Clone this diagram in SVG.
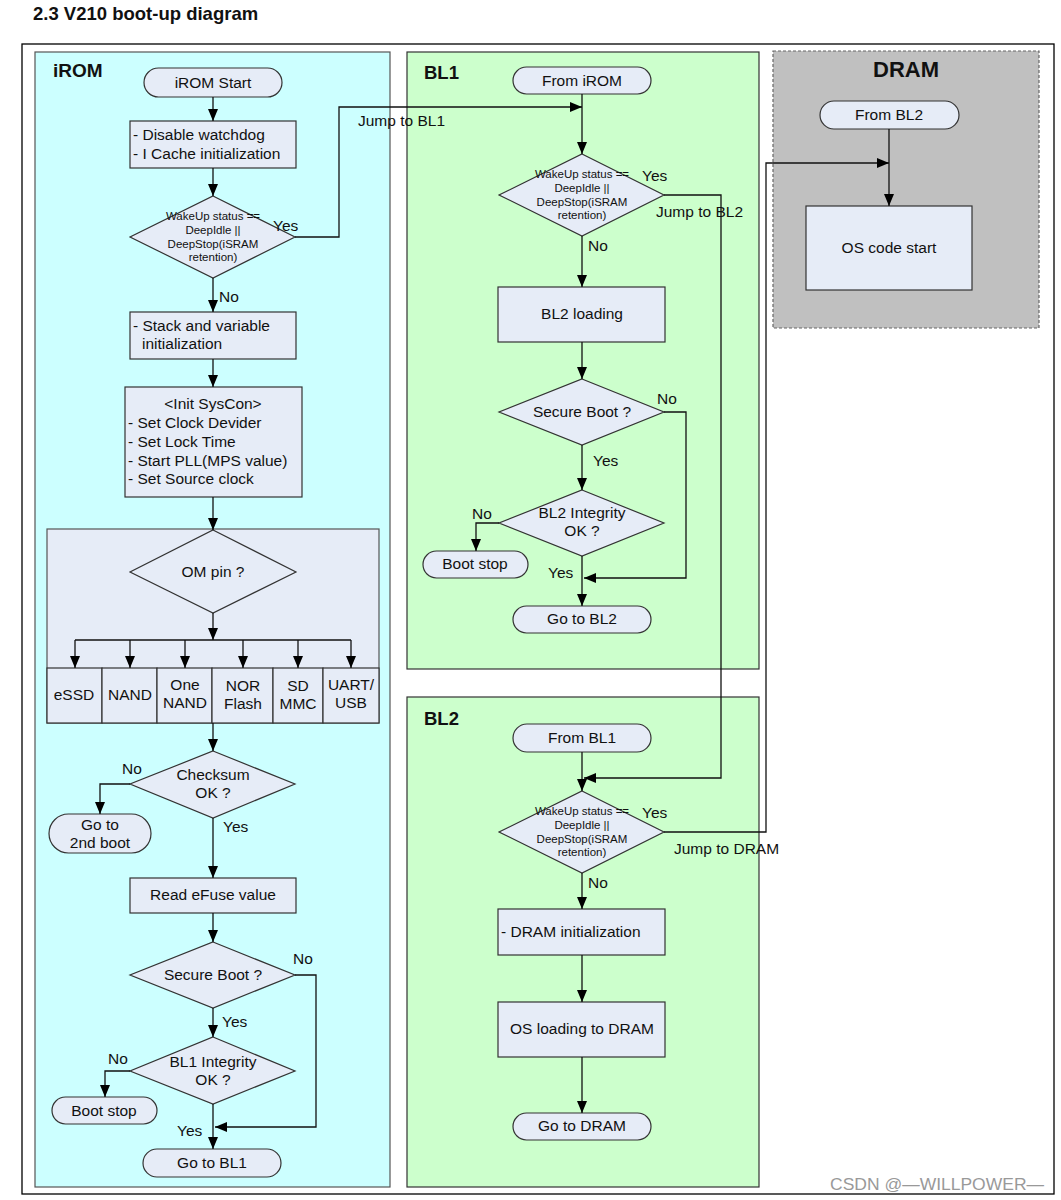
<svg xmlns="http://www.w3.org/2000/svg" width="1061" height="1200" viewBox="0 0 1061 1200">
<style>
text{font-family:"Liberation Sans",Arial,sans-serif;fill:#111}
.t{font-size:15.5px}
.c{text-anchor:middle}
.s{font-size:11.5px}
.b{font-weight:bold}
.n{fill:#e6ecf7;stroke:#333;stroke-width:1.2}
.ln{fill:none;stroke:#111;stroke-width:1.3}
.a{marker-end:url(#ah)}
</style>
<defs>
<marker id="ah" markerUnits="userSpaceOnUse" markerWidth="13" markerHeight="10" refX="12" refY="5" orient="auto">
<path d="M0,0 L12,5 L0,10 Z" fill="#000"/>
</marker>
</defs>
<rect width="1061" height="1200" fill="#fff"/>
<text x="33" y="20" class="b" style="font-size:18.5px">2.3 V210 boot-up diagram</text>
<rect x="22" y="44" width="1032" height="1150" fill="none" stroke="#000" stroke-width="1.3"/>

<g id="panel-irom">
<rect x="35" y="52" width="355" height="1135" fill="#ccffff" stroke="#555" stroke-width="1.2"/>
<text x="53" y="77" class="b" style="font-size:19px">iROM</text>
</g>
<g id="panel-bl1">
<rect x="407" y="52" width="352" height="617" fill="#ccffcc" stroke="#333" stroke-width="1.2"/>
<text x="424" y="79" class="b" style="font-size:18.5px">BL1</text>
</g>
<g id="panel-bl2">
<rect x="407" y="697" width="352" height="490" fill="#ccffcc" stroke="#333" stroke-width="1.2"/>
<text x="424" y="725" class="b" style="font-size:18.5px">BL2</text>
</g>
<g id="panel-dram">
<rect x="773" y="51" width="266" height="277" fill="#c0c0c0" stroke="#666" stroke-width="1.2" stroke-dasharray="3,2"/>
<text x="906" y="77" class="b c" style="font-size:22px">DRAM</text>
</g>

<!-- iROM nodes -->
<g id="irom-start"><rect class="n" x="144" y="68" width="138" height="29" rx="14.5"/><text x="213" y="88" class="t c">iROM Start</text></g>
<g id="irom-watchdog"><rect class="n" x="130" y="121" width="166" height="47"/><text x="133" y="140" class="t">- Disable watchdog</text><text x="133" y="159" class="t">- I Cache initialization</text></g>
<g id="irom-wakeup"><polygon class="n" points="213,196 295,237 213,278 130,237"/><text x="213" y="220" class="s c">WakeUp status ==</text><text x="213" y="234" class="s c">DeepIdle ||</text><text x="213" y="248" class="s c">DeepStop(iSRAM</text><text x="213" y="261" class="s c">retention)</text></g>
<g id="irom-stack"><rect class="n" x="130" y="312" width="166" height="47"/><text x="133" y="331" class="t">- Stack and variable</text><text x="142" y="349" class="t">initialization</text></g>
<g id="irom-syscon"><rect class="n" x="125" y="387" width="177" height="110"/><text x="213" y="409" class="t c">&lt;Init SysCon&gt;</text><text x="128" y="428" class="t">- Set Clock Devider</text><text x="128" y="447" class="t">- Set Lock Time</text><text x="128" y="466" class="t">- Start PLL(MPS value)</text><text x="128" y="484" class="t">- Set Source clock</text></g>
<g id="irom-om">
<rect x="47" y="529" width="332" height="194" fill="#e6ecf7" stroke="#555" stroke-width="1.2"/>
<polygon class="n" points="213,530 296,572 213,613 130,572"/>
<text x="213" y="577" class="t c">OM pin ?</text>
<rect class="n" x="47" y="668" width="55" height="55"/>
<rect class="n" x="102" y="668" width="55" height="55"/>
<rect class="n" x="157" y="668" width="55" height="55"/>
<rect class="n" x="212" y="668" width="61" height="55"/>
<rect class="n" x="273" y="668" width="50" height="55"/>
<rect class="n" x="323" y="668" width="56" height="55"/>
<text x="74" y="700" class="t c">eSSD</text>
<text x="130" y="700" class="t c">NAND</text>
<text x="185" y="690" class="t c">One</text><text x="185" y="708" class="t c">NAND</text>
<text x="243" y="691" class="t c">NOR</text><text x="243" y="709" class="t c">Flash</text>
<text x="298" y="691" class="t c">SD</text><text x="298" y="709" class="t c">MMC</text>
<text x="351" y="690" class="t c">UART/</text><text x="351" y="708" class="t c">USB</text>
</g>
<g id="irom-checksum"><polygon class="n" points="213,751 295,784 213,818 130,784"/><text x="213" y="780" class="t c">Checksum</text><text x="213" y="798" class="t c">OK ?</text></g>
<g id="irom-2ndboot"><rect class="n" x="49" y="814" width="102" height="39" rx="19.5"/><text x="100" y="830" class="t c">Go to</text><text x="100" y="848" class="t c">2nd boot</text></g>
<g id="irom-efuse"><rect class="n" x="130" y="878" width="166" height="35"/><text x="213" y="900" class="t c">Read eFuse value</text></g>
<g id="irom-secure"><polygon class="n" points="213,942 295,975 213,1008 130,975"/><text x="213" y="980" class="t c">Secure Boot ?</text></g>
<g id="irom-integrity"><polygon class="n" points="213,1037 295,1071 213,1104 130,1071"/><text x="213" y="1067" class="t c">BL1 Integrity</text><text x="213" y="1085" class="t c">OK ?</text></g>
<g id="irom-bootstop"><rect class="n" x="52" y="1097" width="105" height="27" rx="13.5"/><text x="104" y="1116" class="t c">Boot stop</text></g>
<g id="irom-gotobl1"><rect class="n" x="143" y="1149" width="138" height="28" rx="14"/><text x="212" y="1168" class="t c">Go to BL1</text></g>

<!-- BL1 nodes -->
<g id="bl1-from"><rect class="n" x="513" y="67" width="138" height="27" rx="13.5"/><text x="582" y="86" class="t c">From iROM</text></g>
<g id="bl1-wakeup"><polygon class="n" points="582,154 664,195 582,236 499,195"/><text x="582" y="178" class="s c">WakeUp status ==</text><text x="582" y="192" class="s c">DeepIdle ||</text><text x="582" y="206" class="s c">DeepStop(iSRAM</text><text x="582" y="219" class="s c">retention)</text></g>
<g id="bl1-loading"><rect class="n" x="498" y="287" width="167" height="55"/><text x="582" y="319" class="t c">BL2 loading</text></g>
<g id="bl1-secure"><polygon class="n" points="582,379 664,412 582,445 499,412"/><text x="582" y="417" class="t c">Secure Boot ?</text></g>
<g id="bl1-integrity"><polygon class="n" points="582,490 664,523 582,556 499,523"/><text x="582" y="518" class="t c">BL2 Integrity</text><text x="582" y="536" class="t c">OK ?</text></g>
<g id="bl1-bootstop"><rect class="n" x="423" y="551" width="105" height="27" rx="13.5"/><text x="475" y="569" class="t c">Boot stop</text></g>
<g id="bl1-gotobl2"><rect class="n" x="513" y="606" width="138" height="27" rx="13.5"/><text x="582" y="624" class="t c">Go to BL2</text></g>

<!-- BL2 nodes -->
<g id="bl2-from"><rect class="n" x="513" y="724" width="138" height="28" rx="14"/><text x="582" y="743" class="t c">From BL1</text></g>
<g id="bl2-wakeup"><polygon class="n" points="582,791 664,832 582,873 499,832"/><text x="582" y="815" class="s c">WakeUp status ==</text><text x="582" y="829" class="s c">DeepIdle ||</text><text x="582" y="843" class="s c">DeepStop(iSRAM</text><text x="582" y="856" class="s c">retention)</text></g>
<g id="bl2-draminit"><rect class="n" x="498" y="909" width="167" height="46"/><text x="501" y="937" class="t">- DRAM initialization</text></g>
<g id="bl2-osload"><rect class="n" x="498" y="1002" width="167" height="55"/><text x="582" y="1034" class="t c">OS loading to DRAM</text></g>
<g id="bl2-gotodram"><rect class="n" x="513" y="1113" width="138" height="27" rx="13.5"/><text x="582" y="1131" class="t c">Go to DRAM</text></g>

<!-- DRAM nodes -->
<g id="dram-from"><rect class="n" x="820" y="101" width="139" height="28" rx="14"/><text x="889" y="120" class="t c">From BL2</text></g>
<g id="dram-os"><rect class="n" x="806" y="206" width="166" height="84"/><text x="889" y="253" class="t c">OS code start</text></g>

<g id="connectors">
<path class="ln a" d="M213,97 V121"/>
<path class="ln a" d="M213,168 V196"/>
<path class="ln a" d="M295,237 H339 V107 H582"/>
<path class="ln a" d="M213,278 V312"/>
<path class="ln a" d="M213,359 V387"/>
<path class="ln a" d="M213,497 V530"/>
<path class="ln a" d="M213,613 V640"/>
<path class="ln" d="M75,640 H351"/>
<path class="ln a" d="M75,640 V668"/>
<path class="ln a" d="M130,640 V668"/>
<path class="ln a" d="M185,640 V668"/>
<path class="ln a" d="M243,640 V668"/>
<path class="ln a" d="M298,640 V668"/>
<path class="ln a" d="M351,640 V668"/>
<path class="ln a" d="M213,723 V751"/>
<path class="ln a" d="M130,784 H100 V814"/>
<path class="ln a" d="M213,818 V878"/>
<path class="ln a" d="M213,913 V942"/>
<path class="ln a" d="M295,975 H316 V1127 H215"/>
<path class="ln a" d="M213,1008 V1037"/>
<path class="ln a" d="M130,1071 H105 V1097"/>
<path class="ln a" d="M213,1104 V1149"/>
<path class="ln a" d="M582,94 V154"/>
<path class="ln a" d="M664,195 H721 V778 H584"/>
<path class="ln a" d="M582,236 V287"/>
<path class="ln a" d="M582,342 V379"/>
<path class="ln a" d="M664,412 H686 V578 H584"/>
<path class="ln a" d="M582,445 V490"/>
<path class="ln a" d="M499,523 H476 V551"/>
<path class="ln a" d="M582,556 V606"/>
<path class="ln a" d="M582,752 V791"/>
<path class="ln a" d="M664,832 H766 V163 H889"/>
<path class="ln a" d="M582,873 V909"/>
<path class="ln a" d="M582,955 V1002"/>
<path class="ln a" d="M582,1057 V1113"/>
<path class="ln a" d="M889,129 V206"/>
</g>

<g id="labels">
<text x="358" y="126" class="t">Jump to BL1</text>
<text x="273" y="231" class="t">Yes</text>
<text x="219" y="302" class="t">No</text>
<text x="122" y="774" class="t">No</text>
<text x="223" y="832" class="t">Yes</text>
<text x="293" y="964" class="t">No</text>
<text x="222" y="1027" class="t">Yes</text>
<text x="108" y="1064" class="t">No</text>
<text x="177" y="1136" class="t">Yes</text>
<text x="642" y="181" class="t">Yes</text>
<text x="656" y="217" class="t">Jump to BL2</text>
<text x="588" y="251" class="t">No</text>
<text x="657" y="404" class="t">No</text>
<text x="593" y="466" class="t">Yes</text>
<text x="472" y="519" class="t">No</text>
<text x="548" y="578" class="t">Yes</text>
<text x="642" y="818" class="t">Yes</text>
<text x="674" y="854" class="t">Jump to DRAM</text>
<text x="588" y="888" class="t">No</text>
</g>
<text x="830" y="1190" textLength="214" lengthAdjust="spacingAndGlyphs" style="font-size:17px;fill:#999;font-family:'Liberation Sans',sans-serif">CSDN @—WILLPOWER—</text>
</svg>
